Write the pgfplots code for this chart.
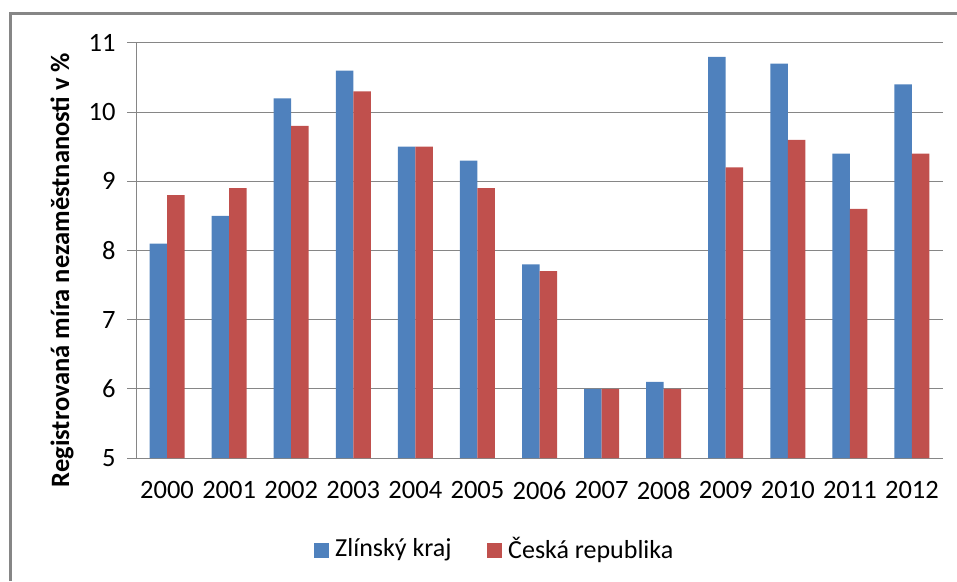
\documentclass[border=0pt]{standalone}
\usepackage{fontspec}
\setmainfont{Carlito}
\usepackage{pgfplots}
\pgfplotsset{compat=1.18}
\definecolor{zblue}{HTML}{4F81BD}
\definecolor{zred}{HTML}{C0504D}
\definecolor{zgrid}{HTML}{868686}
\begin{document}
\begin{tikzpicture}
\path[use as bounding box] (0pt,0pt) rectangle (957pt,581pt);
\draw[zgrid, line width=3pt] (10.5pt,0pt) -- (10.5pt,567.5pt) -- (957pt,567.5pt);
\begin{axis}[
  at={(136pt,123pt)}, anchor=south west,
  scale only axis, width=807pt, height=415pt,
  ybar=0pt, bar width=17.5pt,
  xmin=-0.5, xmax=12.5, ymin=5, ymax=11,
  ytick={5,6,7,8,9,10,11},
  xtick={0,...,12},
  xticklabels={2000,2001,2002,2003,2004,2005,2006,2007,2008,2009,2010,2011,2012},
  x tick style={draw=none},
  extra x ticks={-0.5,0.5,...,12.5},
  extra x tick labels={},
  extra x tick style={major tick length=9pt, tick style={draw=zgrid, line width=1pt}, tick align=outside},
  y tick style={draw=zgrid, line width=1pt},
  major tick length=9pt, tick align=outside,
  axis x line*=bottom, axis y line*=left,
  axis line style={draw=zgrid, line width=1pt, -},
  ymajorgrids, grid style={draw=zgrid, line width=1pt},
  tick label style={font=\fontsize{26.5}{31}\selectfont},
  /pgf/number format/assume math mode=true,
  xticklabel style={yshift=-11pt},
  yticklabel style={xshift=-8pt},
  every axis plot/.append style={draw=none},
  clip=false,
]
\addplot[fill=zblue] coordinates {(0,8.1) (1,8.5) (2,10.2) (3,10.6) (4,9.5) (5,9.3) (6,7.8) (7,6.0) (8,6.1) (9,10.8) (10,10.7) (11,9.4) (12,10.4)};
\addplot[fill=zred] coordinates {(0,8.8) (1,8.9) (2,9.8) (3,10.3) (4,9.5) (5,8.9) (6,7.7) (7,6.0) (8,6.0) (9,9.2) (10,9.6) (11,8.6) (12,9.4)};
\end{axis}
\node[rotate=90, font=\bfseries\fontsize{26.5}{31}\selectfont] at (62pt,311pt) {Registrovaná míra nezaměstnanosti v \%};
\fill[zblue] (314pt,23.5pt) rectangle (329pt,38.5pt);
\node[anchor=west, font=\fontsize{26}{31}\selectfont, inner sep=0pt] at (335pt,31pt) {Zlínský kraj};
\fill[zred] (487pt,23.5pt) rectangle (502pt,38.5pt);
\node[anchor=west, font=\fontsize{26}{31}\selectfont, inner sep=0pt] at (508pt,31pt) {Česká republika};
\end{tikzpicture}
\end{document}
